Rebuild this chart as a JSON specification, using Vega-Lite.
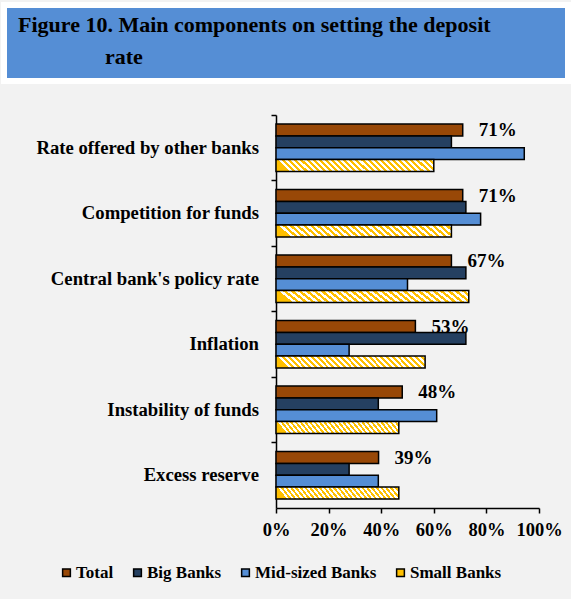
{
  "$schema": "https://vega.github.io/schema/vega-lite/v6.json",
  "background": "#f2f2f2",
  "padding": {"left": 1, "top": 2, "right": 0, "bottom": 18},
  "config": {
    "view": {"stroke": null},
    "font": "Liberation Serif",
    "axis": {"labelFont": "Liberation Serif", "labelFontWeight": "bold", "labelFontSize": 18, "labelColor": "black", "domainColor": "black", "tickColor": "black", "domainWidth": 1.5, "tickWidth": 1.5, "grid": false}
  },
  "datasets": {
    "survey": [
      {"factor": "Rate offered by other banks", "group": "Total", "value": 0.71},
      {"factor": "Rate offered by other banks", "group": "Big Banks", "value": 0.667},
      {"factor": "Rate offered by other banks", "group": "Mid-sized Banks", "value": 0.944},
      {"factor": "Rate offered by other banks", "group": "Small Banks", "value": 0.6},
      {"factor": "Competition for funds", "group": "Total", "value": 0.71},
      {"factor": "Competition for funds", "group": "Big Banks", "value": 0.722},
      {"factor": "Competition for funds", "group": "Mid-sized Banks", "value": 0.778},
      {"factor": "Competition for funds", "group": "Small Banks", "value": 0.667},
      {"factor": "Central bank's policy rate", "group": "Total", "value": 0.667},
      {"factor": "Central bank's policy rate", "group": "Big Banks", "value": 0.722},
      {"factor": "Central bank's policy rate", "group": "Mid-sized Banks", "value": 0.5},
      {"factor": "Central bank's policy rate", "group": "Small Banks", "value": 0.733},
      {"factor": "Inflation", "group": "Total", "value": 0.53},
      {"factor": "Inflation", "group": "Big Banks", "value": 0.722},
      {"factor": "Inflation", "group": "Mid-sized Banks", "value": 0.278},
      {"factor": "Inflation", "group": "Small Banks", "value": 0.567},
      {"factor": "Instability of funds", "group": "Total", "value": 0.48},
      {"factor": "Instability of funds", "group": "Big Banks", "value": 0.389},
      {"factor": "Instability of funds", "group": "Mid-sized Banks", "value": 0.611},
      {"factor": "Instability of funds", "group": "Small Banks", "value": 0.467},
      {"factor": "Excess reserve", "group": "Total", "value": 0.39},
      {"factor": "Excess reserve", "group": "Big Banks", "value": 0.278},
      {"factor": "Excess reserve", "group": "Mid-sized Banks", "value": 0.389},
      {"factor": "Excess reserve", "group": "Small Banks", "value": 0.467}
    ]
  },
  "spacing": 30,
  "vconcat": [
    {
      "width": 564,
      "height": 76,
      "view": {"fill": "#558ed5", "stroke": "white", "strokeWidth": 6},
      "title": {
        "text": ["Figure 10. Main components on setting the deposit", "\u200b\u00a0\u00a0\u00a0\u00a0\u00a0\u00a0\u00a0\u00a0\u00a0\u00a0\u00a0\u00a0\u00a0\u00a0\u00a0\u2009rate"],
        "anchor": "start",
        "frame": "group",
        "font": "Liberation Serif",
        "fontSize": 22,
        "fontWeight": "bold",
        "color": "black",
        "baseline": "top",
        "offset": -56,
        "dx": 14,
        "dy": 8,
        "lineHeight": 32
      },
      "data": {"values": [{}]},
      "mark": {"type": "text", "text": ""},
      "encoding": {}
    },
    {
      "spacing": 17,
      "bounds": "flush",
      "hconcat": [
        {
          "width": 255,
          "height": 393,
          "data": {"name": "survey"},
          "transform": [{"filter": "datum.group === 'Total'"}],
          "mark": {"type": "text", "align": "right", "baseline": "middle", "font": "Liberation Serif", "fontSize": 18.7, "fontWeight": "bold", "color": "black"},
          "encoding": {
            "y": {"field": "factor", "type": "nominal", "sort": null, "scale": {"domain": ["Rate offered by other banks", "Competition for funds", "Central bank's policy rate", "Inflation", "Instability of funds", "Excess reserve"], "paddingInner": 0, "paddingOuter": 0}, "axis": null},
            "x": {"datum": 1, "type": "quantitative", "scale": {"domain": [0, 1]}, "axis": null},
            "text": {"field": "factor"}
          }
        },
        {
          "width": 263,
          "height": 393,
          "data": {"name": "survey"},
          "encoding": {
            "y": {"field": "factor", "type": "nominal", "sort": null, "scale": {"domain": ["Rate offered by other banks", "Competition for funds", "Central bank's policy rate", "Inflation", "Instability of funds", "Excess reserve"], "paddingInner": 0, "paddingOuter": 0}, "axis": {"labels": false, "title": null, "bandPosition": 0, "tickSize": 5}},
            "x": {"field": "value", "type": "quantitative", "scale": {"domain": [0, 1]}, "axis": {"values": [0, 0.2, 0.4, 0.6, 0.8, 1], "format": ".0%", "title": null, "tickSize": 5, "labelPadding": 7, "labelFontSize": 18.5, "labelOverlap": false, "labelFlush": false, "labelBound": false}},
            "yOffset": {"field": "group", "type": "nominal", "sort": null, "scale": {"domain": ["Total", "Big Banks", "Mid-sized Banks", "Small Banks"], "paddingInner": 0, "paddingOuter": 0.77}}
          },
          "layer": [
            {
              "mark": {"type": "bar", "stroke": "black", "strokeWidth": 1.5},
              "encoding": {
                "color": {
                  "condition": {
                    "test": "datum.group === 'Small Banks'",
                    "value": {
                      "gradient": "linear", "x1": 0, "y1": 0.076, "x2": 1, "y2": 0,
                      "stops": [
                        {"offset": 0, "color": "#ffc000"}, {"offset": 0.01923, "color": "#ffc000"}, {"offset": 0.01923, "color": "#ffffff"}, {"offset": 0.03846, "color": "#ffffff"},
                        {"offset": 0.03846, "color": "#ffc000"}, {"offset": 0.05769, "color": "#ffc000"}, {"offset": 0.05769, "color": "#ffffff"}, {"offset": 0.07692, "color": "#ffffff"},
                        {"offset": 0.07692, "color": "#ffc000"}, {"offset": 0.09615, "color": "#ffc000"}, {"offset": 0.09615, "color": "#ffffff"}, {"offset": 0.11538, "color": "#ffffff"},
                        {"offset": 0.11538, "color": "#ffc000"}, {"offset": 0.13462, "color": "#ffc000"}, {"offset": 0.13462, "color": "#ffffff"}, {"offset": 0.15385, "color": "#ffffff"},
                        {"offset": 0.15385, "color": "#ffc000"}, {"offset": 0.17308, "color": "#ffc000"}, {"offset": 0.17308, "color": "#ffffff"}, {"offset": 0.19231, "color": "#ffffff"},
                        {"offset": 0.19231, "color": "#ffc000"}, {"offset": 0.21154, "color": "#ffc000"}, {"offset": 0.21154, "color": "#ffffff"}, {"offset": 0.23077, "color": "#ffffff"},
                        {"offset": 0.23077, "color": "#ffc000"}, {"offset": 0.25, "color": "#ffc000"}, {"offset": 0.25, "color": "#ffffff"}, {"offset": 0.26923, "color": "#ffffff"},
                        {"offset": 0.26923, "color": "#ffc000"}, {"offset": 0.28846, "color": "#ffc000"}, {"offset": 0.28846, "color": "#ffffff"}, {"offset": 0.30769, "color": "#ffffff"},
                        {"offset": 0.30769, "color": "#ffc000"}, {"offset": 0.32692, "color": "#ffc000"}, {"offset": 0.32692, "color": "#ffffff"}, {"offset": 0.34615, "color": "#ffffff"},
                        {"offset": 0.34615, "color": "#ffc000"}, {"offset": 0.36538, "color": "#ffc000"}, {"offset": 0.36538, "color": "#ffffff"}, {"offset": 0.38462, "color": "#ffffff"},
                        {"offset": 0.38462, "color": "#ffc000"}, {"offset": 0.40385, "color": "#ffc000"}, {"offset": 0.40385, "color": "#ffffff"}, {"offset": 0.42308, "color": "#ffffff"},
                        {"offset": 0.42308, "color": "#ffc000"}, {"offset": 0.44231, "color": "#ffc000"}, {"offset": 0.44231, "color": "#ffffff"}, {"offset": 0.46154, "color": "#ffffff"},
                        {"offset": 0.46154, "color": "#ffc000"}, {"offset": 0.48077, "color": "#ffc000"}, {"offset": 0.48077, "color": "#ffffff"}, {"offset": 0.5, "color": "#ffffff"},
                        {"offset": 0.5, "color": "#ffc000"}, {"offset": 0.51923, "color": "#ffc000"}, {"offset": 0.51923, "color": "#ffffff"}, {"offset": 0.53846, "color": "#ffffff"},
                        {"offset": 0.53846, "color": "#ffc000"}, {"offset": 0.55769, "color": "#ffc000"}, {"offset": 0.55769, "color": "#ffffff"}, {"offset": 0.57692, "color": "#ffffff"},
                        {"offset": 0.57692, "color": "#ffc000"}, {"offset": 0.59615, "color": "#ffc000"}, {"offset": 0.59615, "color": "#ffffff"}, {"offset": 0.61538, "color": "#ffffff"},
                        {"offset": 0.61538, "color": "#ffc000"}, {"offset": 0.63462, "color": "#ffc000"}, {"offset": 0.63462, "color": "#ffffff"}, {"offset": 0.65385, "color": "#ffffff"},
                        {"offset": 0.65385, "color": "#ffc000"}, {"offset": 0.67308, "color": "#ffc000"}, {"offset": 0.67308, "color": "#ffffff"}, {"offset": 0.69231, "color": "#ffffff"},
                        {"offset": 0.69231, "color": "#ffc000"}, {"offset": 0.71154, "color": "#ffc000"}, {"offset": 0.71154, "color": "#ffffff"}, {"offset": 0.73077, "color": "#ffffff"},
                        {"offset": 0.73077, "color": "#ffc000"}, {"offset": 0.75, "color": "#ffc000"}, {"offset": 0.75, "color": "#ffffff"}, {"offset": 0.76923, "color": "#ffffff"},
                        {"offset": 0.76923, "color": "#ffc000"}, {"offset": 0.78846, "color": "#ffc000"}, {"offset": 0.78846, "color": "#ffffff"}, {"offset": 0.80769, "color": "#ffffff"},
                        {"offset": 0.80769, "color": "#ffc000"}, {"offset": 0.82692, "color": "#ffc000"}, {"offset": 0.82692, "color": "#ffffff"}, {"offset": 0.84615, "color": "#ffffff"},
                        {"offset": 0.84615, "color": "#ffc000"}, {"offset": 0.86538, "color": "#ffc000"}, {"offset": 0.86538, "color": "#ffffff"}, {"offset": 0.88462, "color": "#ffffff"},
                        {"offset": 0.88462, "color": "#ffc000"}, {"offset": 0.90385, "color": "#ffc000"}, {"offset": 0.90385, "color": "#ffffff"}, {"offset": 0.92308, "color": "#ffffff"},
                        {"offset": 0.92308, "color": "#ffc000"}, {"offset": 0.94231, "color": "#ffc000"}, {"offset": 0.94231, "color": "#ffffff"}, {"offset": 0.96154, "color": "#ffffff"},
                        {"offset": 0.96154, "color": "#ffc000"}, {"offset": 0.98077, "color": "#ffc000"}, {"offset": 0.98077, "color": "#ffffff"}, {"offset": 1, "color": "#ffffff"}
                      ]
                    }
                  },
                  "field": "group",
                  "type": "nominal",
                  "sort": null,
                  "scale": {"domain": ["Total", "Big Banks", "Mid-sized Banks", "Small Banks"], "range": ["#984807", "#254061", "#558ed5", "#ffc000"]},
                  "legend": {
                    "orient": "none", "legendX": 54, "legendY": 559, "direction": "horizontal", "title": null,
                    "symbolType": "square", "symbolSize": 60, "symbolStrokeColor": "black", "symbolStrokeWidth": 1.5, "symbolOpacity": 1,
                    "labelFont": "Liberation Serif", "labelFontSize": 17, "labelFontWeight": "bold", "labelColor": "black", "labelOffset": 1, "columnPadding": 15
                  }
                }
              }
            },
            {
              "transform": [{"filter": "datum.group === 'Total'"}],
              "mark": {"type": "text", "align": "left", "baseline": "middle", "dx": 16, "font": "Liberation Serif", "fontSize": 19, "fontWeight": "bold", "color": "black"},
              "encoding": {"text": {"field": "value", "type": "quantitative", "format": ".0%"}}
            }
          ]
        }
      ]
    }
  ]
}
